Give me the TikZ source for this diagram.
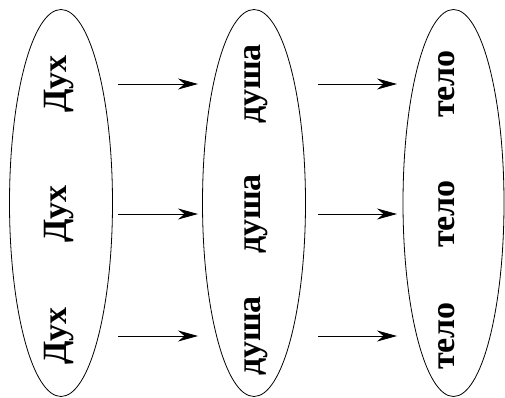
\documentclass[tikz,border=0pt]{standalone}
\usepackage{fontspec}
\setmainfont{Liberation Serif}
\usetikzlibrary{arrows.meta}
\begin{document}
\begin{tikzpicture}[x=1pt,y=-1pt,
  oval/.style={draw,line width=0.8pt},
  word/.style={font=\fontsize{34}{34}\selectfont\bfseries,rotate=90,anchor=base,inner sep=0pt},
  arr/.style={line width=0.8pt,-{Stealth[length=20pt,width=11pt]}}]
\useasboundingbox (0,0) rectangle (505,398);
\draw[oval] (61,203) ellipse [x radius=51.5,y radius=193.5];
\draw[oval] (254,203) ellipse [x radius=51.5,y radius=193.5];
\draw[oval] (453.5,203) ellipse [x radius=50.5,y radius=193.5];
\foreach \r/\y in {1/84,2/214,3/336}{
  \node[word] (d\r) at (66,\y) {Дух};
  \node[word] (s\r) at (260,\y) {душа};
  \node[word] (t\r) at (454,\y) {тело};
  \coordinate (a\r) at (118,\y);
  \coordinate (b\r) at (198,\y);
  \coordinate (c\r) at (318,\y);
  \coordinate (e\r) at (397,\y);
  \draw[arr] (a\r) -- (b\r);
  \draw[arr] (c\r) -- (e\r);
}
\end{tikzpicture}
\end{document}
